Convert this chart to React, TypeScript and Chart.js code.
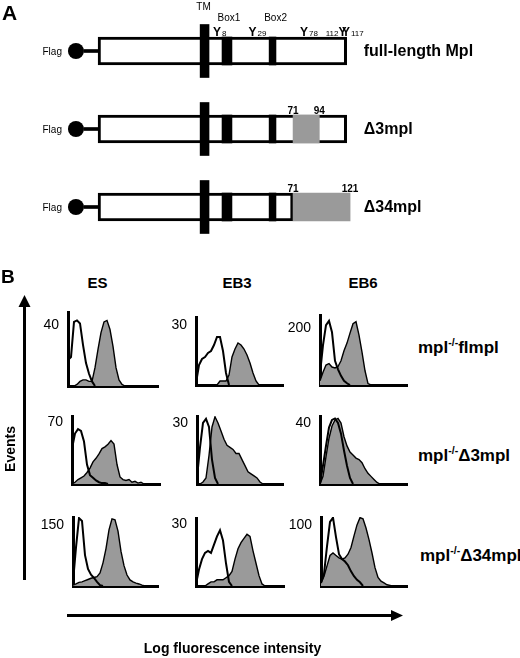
import React, { useEffect, useRef } from "react";
import { Chart, registerables } from "chart.js";

Chart.register(...registerables);

const FONT = '"Liberation Sans", Arial, Helvetica, sans-serif';
const GREY = "#9a9a9a";

// ---------------- Panel A: constructs (diagram units ~ cytoplasmic residues) ----------------
const constructs = ["full-length Mpl", "Δ3mpl", "Δ34mpl"];
const receptorBody: [number, number][] = [[-100, 118], [-100, 118], [-100, 71]];
const tmDomain: [number, number] = [-10.5, -2.7];
const box1Domain: [number, number] = [8.7, 17.4];
const box2Domain: [number, number] = [50, 56];
const deletedRegion: ([number, number] | null)[] = [null, [71, 94], [71, 121]];
const deletionLabels: ([string, string] | null)[] = [null, ["71", "94"], ["71", "121"]];
const flagTag = -119.4;
const flagLinker: [number, number] = [-112.5, -100];
const tyrosineSites = ["8", "29", "78", "112", "117"];
const tyrosineMarks = [4.3, 35.4, 80.6, 114.3, 117.4];
const tyrosineLabelSide = ["right", "right", "right", "left", "right"];

// ---------------- Panel B: flow histograms ----------------
const stages = ["ES", "EB3", "EB6"];
const cellLines = [
  ["mpl", "-/-", "flmpl"],
  ["mpl", "-/-", "Δ3mpl"],
  ["mpl", "-/-", "Δ34mpl"],
];
const countLabels = [
  [40, 30, 200],
  [70, 30, 40],
  [150, 30, 100],
];
const countAxisMax = [
  [48.5, 34, 245.6],
  [76.8, 33.4, 44.6],
  [169.7, 32.9, 113],
];

// open (control) and grey (anti-Flag stained) histograms, one value per channel bin
const flmplEsControl = [17, 19, 42, 43, 41, 27, 15, 8, 3, 0];
const flmplEsStained = [0, 0, 0, 1, 3, 4, 4, 3, 3, 12, 24, 35, 42, 43, 37, 26, 12, 4, 1, 0];
const flmplEb3Control = [1, 10, 13, 14, 16, 17, 20, 24, 24, 17, 6, 0];
const flmplEb3Stained = [0, 0, 0, 0, 0, 0, 0, 0, 2, 2, 2, 5, 14, 18, 21, 20, 18, 15, 11, 6, 2, 0];
const flmplEb6Control = [40, 140, 210, 225, 185, 85, 55, 32, 15, 6, 0];
const flmplEb6Stained = [15, 45, 70, 75, 63, 60, 65, 85, 120, 147, 182, 215, 222, 175, 115, 50, 5, 0];

const d3EsControl = [40, 57, 62, 60, 48, 22, 10, 7, 4, 2, 1, 1, 0];
const d3EsStained = [0, 2, 5, 7, 9, 13, 18, 25, 29, 34, 40, 42, 45, 49, 45, 22, 8, 5, 4, 5, 2, 3, 1, 2, 0];
const d3Eb3Control = [3, 18, 30, 32, 28, 12, 3, 0];
const d3Eb3Stained = [0, 0, 1, 3, 14, 28, 33, 30, 26, 22, 19, 18, 17, 15, 15, 12, 9, 6, 5, 4, 3, 1, 0];
const d3Eb6Control = [0, 12, 25, 37, 42, 43, 40, 33, 22, 12, 4, 0];
const d3Eb6Stained = [0, 5, 18, 30, 38, 42, 43, 40, 31, 25, 21, 19, 17, 16, 14, 10, 7, 5, 3, 1, 0];

const d34EsControl = [10, 95, 167, 160, 76, 42, 28, 20, 10, 2, 0];
const d34EsStained = [2, 5, 9, 10, 13, 16, 19, 21, 23, 32, 57, 92, 138, 165, 163, 135, 85, 50, 27, 15, 10, 7, 5, 2, 0];
const d34Eb3Control = [1, 8, 13, 16, 17, 16, 20, 24, 27, 22, 11, 2, 0];
const d34Eb3Stained = [0, 0, 0, 0, 1, 2, 2, 3, 3, 3, 4, 5, 7, 13, 18, 21, 23, 25, 24, 17, 11, 5, 1, 0];
const d34Eb6Control = [5, 20, 65, 105, 112, 80, 52, 44, 40, 34, 24, 16, 10, 6, 0];
const d34Eb6Stained = [5, 16, 33, 50, 54, 50, 46, 44, 46, 52, 63, 82, 100, 112, 110, 95, 76, 54, 30, 14, 8, 5, 2, 1, 0];

const histograms = [
  [
    { control: flmplEsControl, stained: flmplEsStained },
    { control: flmplEb3Control, stained: flmplEb3Stained },
    { control: flmplEb6Control, stained: flmplEb6Stained },
  ],
  [
    { control: d3EsControl, stained: d3EsStained },
    { control: d3Eb3Control, stained: d3Eb3Stained },
    { control: d3Eb6Control, stained: d3Eb6Stained },
  ],
  [
    { control: d34EsControl, stained: d34EsStained },
    { control: d34Eb3Control, stained: d34Eb3Stained },
    { control: d34Eb6Control, stained: d34Eb6Stained },
  ],
];

// ---------------- layout (pixels) ----------------
const LW = 40;
const BIN_PX = 3;
const histLayout = [
  [{ ax: 68, top: 312, base: 386, right: 158 }, { ax: 196, top: 317, base: 385, right: 283 }, { ax: 320, top: 315, base: 385, right: 407 }],
  [{ ax: 72, top: 416, base: 484, right: 160 }, { ax: 197, top: 416, base: 484, right: 283 }, { ax: 320, top: 416, base: 484, right: 407 }],
  [{ ax: 73, top: 517, base: 586, right: 158 }, { ax: 196, top: 518, base: 586, right: 284 }, { ax: 321, top: 517, base: 586, right: 407 }],
];

const constructAnnotations = {
  id: "constructAnnotations",
  afterDatasetsDraw(chart: any) {
    const { ctx } = chart;
    const xs = chart.scales.x;
    const ys = chart.scales.y;
    const px = (v: number) => xs.getPixelForValue(v);
    ctx.save();
    ctx.fillStyle = "#000";
    ctx.textBaseline = "alphabetic";
    const row0 = ys.getPixelForValue(0);

    ctx.textAlign = "center";
    ctx.font = `10px ${FONT}`;
    ctx.fillText("TM", px((tmDomain[0] + tmDomain[1]) / 2) - 1, row0 - 41.5);
    ctx.fillText("Box1", px((box1Domain[0] + box1Domain[1]) / 2) + 2, row0 - 30);
    ctx.fillText("Box2", px((box2Domain[0] + box2Domain[1]) / 2) + 3, row0 - 30);

    tyrosineMarks.forEach((m, k) => {
      const cx = px(m);
      ctx.font = `bold 12px ${FONT}`;
      ctx.textAlign = "center";
      ctx.fillText("Y", cx, row0 - 15.5);
      ctx.font = `8px ${FONT}`;
      if (tyrosineLabelSide[k] === "left") {
        ctx.textAlign = "right";
        ctx.fillText(tyrosineSites[k], cx - 4, row0 - 15.5);
      } else {
        ctx.textAlign = "left";
        ctx.fillText(tyrosineSites[k], cx + 5, row0 - 15.5);
      }
    });

    constructs.forEach((name, i) => {
      const cy = ys.getPixelForValue(i);
      ctx.font = `10px ${FONT}`;
      ctx.textAlign = "right";
      ctx.fillText("Flag", px(flagTag) - 14, cy + 3.5);
      ctx.font = `bold 16px ${FONT}`;
      ctx.textAlign = "left";
      ctx.fillText(name, px(133), cy + 5);
      const d = deletedRegion[i];
      const lab = deletionLabels[i];
      if (d && lab) {
        ctx.font = `bold 10px ${FONT}`;
        ctx.textAlign = "center";
        ctx.fillText(lab[0], px(d[0]), cy - 15.5);
        ctx.fillText(lab[1], px(d[1]), cy - 15.5);
      }
    });
    ctx.restore();
  },
};

function ConstructChart() {
  const ref = useRef<HTMLCanvasElement>(null);
  useEffect(() => {
    if (!ref.current) return;
    const bar = (data: any[], color: string, thickness: number, order: number, extra: any = {}) => ({
      type: "bar",
      data,
      backgroundColor: color,
      borderWidth: 0,
      borderSkipped: false,
      barThickness: thickness,
      grouped: false,
      order,
      ...extra,
    });
    const chart = new Chart(ref.current, {
      type: "bar",
      data: {
        labels: constructs,
        datasets: [
          {
            type: "scatter",
            data: constructs.map((c) => ({ x: flagTag, y: c })),
            pointRadius: 8,
            pointBackgroundColor: "#000",
            pointBorderWidth: 0,
            order: 0,
          } as any,
          bar(deletedRegion, GREY, 28, 1),
          bar(constructs.map(() => tmDomain), "#000", 53, 2),
          bar(constructs.map(() => box1Domain), "#000", 28, 3),
          bar(constructs.map(() => box2Domain), "#000", 28, 3),
          bar(constructs.map(() => flagLinker), "#000", 3, 4),
          bar(receptorBody, "#fff", 28, 5, { borderColor: "#000", borderWidth: 3 }),
        ] as any,
      },
      options: {
        animation: false,
        responsive: false,
        indexAxis: "y",
        events: [],
        layout: { autoPadding: false, padding: { top: 12, bottom: 0, left: 0, right: 0 } },
        plugins: { legend: { display: false }, tooltip: { enabled: false } },
        scales: {
          x: { type: "linear", min: -186, max: 270, display: false },
          y: { type: "category", display: false, offset: true },
        },
      } as any,
      plugins: [constructAnnotations],
    });
    return () => chart.destroy();
  }, []);
  return <canvas ref={ref} width={520} height={246} style={{ position: "absolute", left: 0, top: 0 }} />;
}

const countLabelPlugin = {
  id: "countLabel",
  afterDraw(chart: any, _args: any, opts: any) {
    const { ctx, chartArea } = chart;
    const ys = chart.scales.y;
    ctx.save();
    ctx.fillStyle = "#000";
    ctx.font = `14px ${FONT}`;
    ctx.textAlign = "right";
    ctx.textBaseline = "middle";
    ctx.fillText(String(opts.value), chartArea.left - 9, ys.getPixelForValue(opts.value));
    ctx.restore();
  },
};

function Histogram({ r, c }: { r: number; c: number }) {
  const ref = useRef<HTMLCanvasElement>(null);
  const L = histLayout[r][c];
  const plotW = L.right - L.ax;
  const w = LW + plotW + 4;
  const h = L.base - L.top + 6;
  useEffect(() => {
    if (!ref.current) return;
    const { control, stained } = histograms[r][c];
    const label = countLabels[r][c];
    const chart = new Chart(ref.current, {
      type: "line",
      data: {
        datasets: [
          {
            data: control.map((v, i) => ({ x: i, y: v })),
            borderColor: "#000",
            borderWidth: 2,
            fill: false,
            pointRadius: 0,
            tension: 0,
          },
          {
            data: stained.map((v, i) => ({ x: i, y: v })),
            borderColor: "#000",
            borderWidth: 1.4,
            backgroundColor: GREY,
            fill: "origin",
            pointRadius: 0,
            tension: 0,
          },
        ],
      },
      options: {
        animation: false,
        responsive: false,
        events: [],
        layout: { autoPadding: false, padding: { top: 3, right: 4, bottom: 3, left: 0 } },
        plugins: { legend: { display: false }, tooltip: { enabled: false }, countLabel: { value: label } },
        scales: {
          x: {
            type: "linear",
            min: 0,
            max: plotW / BIN_PX,
            grid: { display: false, drawTicks: false },
            border: { display: true, width: 3, color: "#000" },
            ticks: { display: false },
            afterFit: (s: any) => {
              s.height = 0;
            },
          },
          y: {
            type: "linear",
            min: 0,
            max: countAxisMax[r][c],
            grid: { display: false, drawTicks: false },
            border: { display: true, width: 3, color: "#000" },
            ticks: { display: false },
            afterFit: (s: any) => {
              s.width = LW;
            },
          },
        },
      } as any,
      plugins: [countLabelPlugin],
    });
    return () => chart.destroy();
  }, [r, c]);
  return (
    <canvas
      ref={ref}
      width={w}
      height={h}
      style={{ position: "absolute", left: L.ax - LW, top: L.top - 3 }}
    />
  );
}

function Txt({ x, y, size, bold, align = "left", children }: any) {
  const style: any = {
    position: "absolute",
    whiteSpace: "nowrap",
    fontFamily: FONT,
    fontSize: size,
    fontWeight: bold ? "bold" : "normal",
    lineHeight: 1,
    top: y - 0.8465 * size,
    color: "#000",
  };
  if (align === "left") style.left = x;
  else if (align === "center") {
    style.left = x;
    style.transform = "translateX(-50%)";
  } else style.right = 520 - x;
  return <div style={style}>{children}</div>;
}

const stageCenters = [97.5, 237, 363];
const lineLabelPos = [
  { x: 418, y: 353 },
  { x: 418, y: 461 },
  { x: 420, y: 561 },
];

export default function App() {
  return (
    <div style={{ position: "relative", width: 520, height: 658, overflow: "hidden", background: "#fff" }}>
      <style>{"html,body{margin:0;padding:0;background:#fff}"}</style>
      <ConstructChart />
      <Txt x={2} y={20} size={21} bold>A</Txt>
      <Txt x={1} y={283} size={19} bold>B</Txt>
      {stages.map((s, i) => (
        <Txt key={s} x={stageCenters[i]} y={288} size={15} bold align="center">{s}</Txt>
      ))}
      {cellLines.map((parts, i) => (
        <Txt key={i} x={lineLabelPos[i].x} y={lineLabelPos[i].y} size={17} bold>
          {parts[0]}
          <span style={{ fontSize: "0.62em", position: "relative", top: "-0.6em" }}>{parts[1]}</span>
          {parts[2]}
        </Txt>
      ))}
      {histLayout.map((row, r) => row.map((_, c) => <Histogram key={`${r}-${c}`} r={r} c={c} />))}
      <svg width={520} height={658} style={{ position: "absolute", left: 0, top: 0, pointerEvents: "none" }}>
        <line x1={24.5} y1={304} x2={24.5} y2={580} stroke="#000" strokeWidth={3} />
        <polygon points="24.5,295 18.5,307 30.5,307" fill="#000" />
        <line x1={67} y1={615.5} x2={393} y2={615.5} stroke="#000" strokeWidth={3} />
        <polygon points="403,615.5 391,610 391,621" fill="#000" />
      </svg>
      <div
        style={{
          position: "absolute",
          left: 10,
          top: 449,
          transform: "translate(-50%, -50%) rotate(-90deg)",
          fontFamily: FONT,
          fontSize: 14,
          fontWeight: "bold",
          lineHeight: 1,
          whiteSpace: "nowrap",
        }}
      >
        Events
      </div>
      <Txt x={232.5} y={653} size={14} bold align="center">Log fluorescence intensity</Txt>
    </div>
  );
}
